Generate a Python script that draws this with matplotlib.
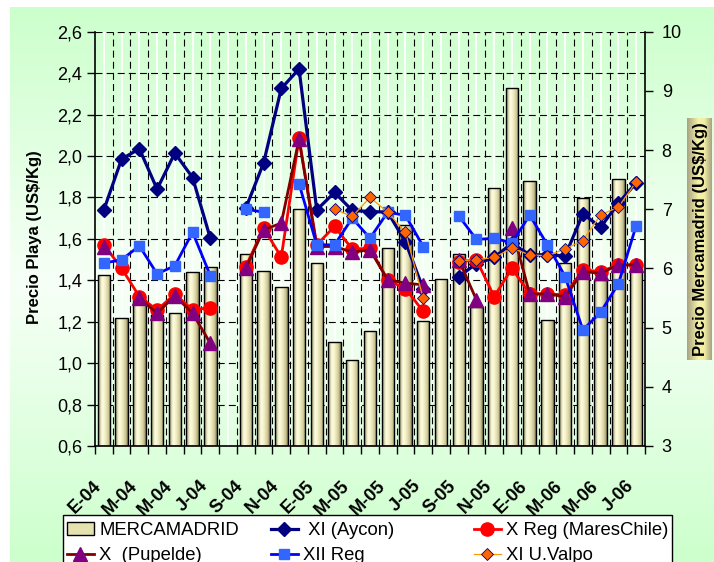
import numpy as np
import matplotlib
matplotlib.use('Agg')
import matplotlib.pyplot as plt
from matplotlib.colors import LinearSegmentedColormap
from matplotlib.transforms import blended_transform_factory, ScaledTranslation
from matplotlib.lines import Line2D
from matplotlib.patches import Rectangle

nan = np.nan

# ---------------- data ----------------
months = list(range(31))  # Jan-2004 ... Jul-2006
tick_labels = ['E-04', 'M-04', 'M-04', 'J-04', 'S-04', 'N-04', 'E-05', 'M-05',
               'M-05', 'J-05', 'S-05', 'N-05', 'E-06', 'M-06', 'M-06', 'J-06']
mercamadrid = [5.89, 5.16, 5.47, 5.22, 5.24, 5.94, 6.02, nan, 6.25, 5.96, 5.68,
               7.00, 6.09, 4.75, 4.45, 4.95, 6.34, 6.74, 5.12, 5.82, 6.25, 5.35,
               7.36, 9.05, 7.47, 5.13, 6.09, 7.19, 5.81, 7.51, 6.00]
xi_aycon = [1.74, 1.985, 2.035, 1.84, 2.014, 1.896, 1.603, nan, 1.748, 1.966, 2.326,
            2.42, 1.74, 1.824, 1.737, 1.732, 1.729, 1.585, 1.358, nan, 1.418, 1.48,
            1.51, 1.579, 1.523, 1.523, 1.518, 1.721, 1.656, 1.772, 1.87]
x_reg_mareschile = [1.571, 1.458, 1.321, 1.257, 1.333, 1.257, 1.268, nan, 1.466, 1.652,
                    1.512, 2.086, 1.571, 1.66, 1.55, 1.555, 1.40, 1.36, 1.25, nan,
                    1.49, 1.499, 1.321, 1.458, 1.334, 1.334, 1.33, 1.45, 1.442, 1.474, 1.474]
x_pupelde = [1.563, nan, 1.313, 1.241, 1.325, 1.241, 1.096, nan, 1.458, 1.643, 1.676,
             2.081, 1.563, 1.563, 1.536, 1.547, 1.402, 1.386, 1.378, nan, 1.50, 1.305,
             nan, 1.652, 1.334, 1.334, 1.321, 1.442, 1.434, 1.474, 1.474]
xii_reg = [1.483, 1.499, 1.566, 1.431, 1.47, 1.632, 1.423, nan, 1.743, 1.729, nan,
           1.866, 1.571, 1.571, 1.70, 1.603, 1.729, 1.713, 1.563, nan, 1.711, 1.597,
           1.603, 1.58, 1.715, 1.571, 1.418, 1.16, 1.246, 1.383, 1.663]
xi_uvalpo = [nan] * 13 + [1.743, 1.708, 1.80, 1.729, 1.631, 1.313, nan, 1.494, 1.499,
                          1.51, 1.555, 1.523, 1.518, 1.552, 1.592, 1.716, 1.753, 1.874]

left_ticks = [0.6, 0.8, 1.0, 1.2, 1.4, 1.6, 1.8, 2.0, 2.2, 2.4, 2.6]
right_ticks = [3, 4, 5, 6, 7, 8, 9, 10]

# ---------------- figure ----------------
plt.rcParams['font.family'] = ['Liberation Sans', 'DejaVu Sans']
plt.rcParams['lines.scale_dashes'] = False

W, H = 714, 562
fig = plt.figure(figsize=(W / 100, H / 100), dpi=100, facecolor='white')


def fx(px):
    return px / W


def fy(py):
    return 1 - py / H


# chart-area gradient background
bg = fig.add_axes([fx(10), 0, 1 - fx(10), fy(7)], zorder=-10)
bg_cmap = LinearSegmentedColormap.from_list(
    'bg', [(0, '#CCFFCC'), (0.5, '#F7FFF7'), (1, '#CCFFCC')])
bg.imshow(np.linspace(0, 1, 256).reshape(-1, 1), aspect='auto', cmap=bg_cmap,
          extent=[0, 1, 0, 1])
bg.set_axis_off()

rect = [fx(95), fy(446), fx(645) - fx(95), (446 - 31.7) / H]
ax = fig.add_axes(rect)
axb = ax.twinx()
axb.set_zorder(ax.get_zorder() - 1)
ax.patch.set_visible(False)
axb.patch.set_visible(False)

x = np.array(months, dtype=float)

# white stripes at category centres
for xi in x:
    axb.axvline(xi, color='white', lw=1.3, zorder=0.3)

# dashed grid
dash = (0, (5, 3))
for xb in np.arange(0.5, 30.5, 1):
    axb.axvline(xb, color='black', lw=0.8, ls=dash, zorder=0.5)
tr = blended_transform_factory(axb.transAxes, ax.transData)
for v in left_ticks[1:]:
    axb.plot([0, 1], [v, v], transform=tr, color='black', lw=0.8, ls=dash, zorder=0.5)

# bars with cylinder-like gradient
bar_cmap = LinearSegmentedColormap.from_list(
    'bar', [(0, '#8E8A5E'), (0.3, '#FFFFE2'), (0.55, '#F3F0C6'),
            (0.85, '#C9C392'), (1, '#7A7650')])
merc = np.array(mercamadrid, dtype=float)
bars = axb.bar(x, merc - 3, bottom=3, width=0.7, facecolor='none',
               edgecolor='black', lw=1.0, zorder=3)
grad = np.linspace(0, 1, 64).reshape(1, -1)
for r in bars:
    h = r.get_height()
    if not np.isfinite(h):
        continue
    x0, w, y0 = r.get_x(), r.get_width(), r.get_y()
    im = axb.imshow(grad, extent=[x0, x0 + w, y0, y0 + h], aspect='auto',
                    cmap=bar_cmap, zorder=2.5, interpolation='bicubic')
    im.set_clip_path(r)

# lines
st_aycon = dict(color='#000080', lw=2.3, marker='D', ms=7.5, mfc='#000080', mec='#000080')
st_xreg = dict(color='#FF0000', lw=2.0, marker='o', ms=9.5, mfc='#FF0000', mec='#FF0000')
st_pup = dict(color='#800000', lw=2.0, marker='^', ms=10, mfc='#800080', mec='#800080')
st_xii = dict(color='#0000FF', lw=2.0, marker='s', ms=6.5, mfc='#3366FF', mec='#3366FF')
st_uv = dict(color='#FF9900', lw=0.9, marker='D', ms=6.3, mfc='#FF6600', mec='#000080', mew=0.6)

ax.plot(x, xi_aycon, zorder=4, **st_aycon)
ax.plot(x, x_reg_mareschile, zorder=5, **st_xreg)
ax.plot(x, x_pupelde, zorder=6, **st_pup)
ax.plot(x, xii_reg, zorder=7, **st_xii)
ax.plot(x, xi_uvalpo, zorder=8, **st_uv)

# axes limits/ticks
ax.set_xlim(-0.5, 30.5)
ax.set_ylim(0.6, 2.6)
axb.set_ylim(3, 10)
ax.set_yticks(left_ticks)
ax.set_yticklabels([f'{v:.1f}'.replace('.', ',') for v in left_ticks])
axb.set_yticks(right_ticks)
axb.set_yticklabels([str(v) for v in right_ticks])
ax.tick_params(axis='y', direction='out', length=6, width=1, labelsize=13, pad=3)
axb.tick_params(axis='y', direction='out', length=6, width=1, labelsize=13, pad=6)

ax.set_xticks(np.arange(-0.5, 31, 1))
ax.set_xticklabels([])
ax.set_xticks(range(0, 31, 2), minor=True)
ax.set_xticklabels(tick_labels, minor=True, rotation=45, ha='right', va='center',
                   rotation_mode='anchor', fontweight='bold', fontsize=13)
ax.tick_params(axis='x', which='major', direction='out', length=6, width=1)
ax.tick_params(axis='x', which='minor', length=0, pad=27)
shift = ScaledTranslation(-5 / 100, 0, fig.dpi_scale_trans)
for lbl in ax.get_xticklabels(minor=True):
    lbl.set_transform(lbl.get_transform() + shift)

for a in (ax, axb):
    a.spines['top'].set_visible(False)
    for s in a.spines.values():
        s.set_linewidth(1.2)
ax.spines['right'].set_visible(False)
axb.spines['left'].set_visible(False)
axb.spines['bottom'].set_visible(False)

# y labels
fig.text(fx(35), fy(237), 'Precio Playa (US$/Kg)', rotation=90, ha='center',
         va='center', fontsize=12, fontweight='bold')

lab = fig.add_axes([fx(687), fy(360), fx(25), (360 - 118) / H], zorder=5)
lab_cmap = LinearSegmentedColormap.from_list(
    'lab', [(0, '#A8A282'), (0.45, '#F6F2A8'), (0.7, '#F2EEA4'), (1, '#A8A282')])
lab.imshow(np.linspace(0, 1, 64).reshape(1, -1), aspect='auto', cmap=lab_cmap,
           extent=[0, 1, 0, 1])
lab.set_axis_off()
lab.text(0.52, 0.5, 'Precio Mercamadrid (US$/Kg)', rotation=90, ha='center',
         va='center', fontsize=12, fontweight='bold', transform=lab.transAxes)

# legend (three columns, frame cut off at bottom)
frame = Rectangle((fx(63), fy(620)), fx(672) - fx(63), (620 - 515) / H,
                  transform=fig.transFigure, facecolor='white', edgecolor='black',
                  lw=1.0, zorder=1)
fig.add_artist(frame)

h_merc = Rectangle((0, 0), 1, 1, facecolor='#E6E2B0', edgecolor='black', lw=1.0)
h_aycon = Line2D([], [], **st_aycon)
h_xreg = Line2D([], [], **st_xreg)
h_pup = Line2D([], [], **st_pup)
h_xii = Line2D([], [], **st_xii)
h_uv = Line2D([], [], **st_uv)

cols = [(67, [h_merc, h_pup], ['MERCAMADRID', 'X  (Pupelde)']),
        (271, [h_aycon, h_xii], [' XI (Aycon)', 'XII Reg']),
        (474, [h_xreg, h_uv], ['X Reg (MaresChile)', 'XI U.Valpo'])]
for xc, hs, ls in cols:
    leg = fig.legend(handles=hs, labels=ls, loc='upper left',
                     bbox_to_anchor=(fx(xc), fy(522)), frameon=False, fontsize=13.3,
                     handlelength=1.45, handletextpad=0.3, labelspacing=0.45,
                     borderpad=0, borderaxespad=0)
    leg.set_zorder(2)

fig.savefig('out.png', dpi=100, facecolor=fig.get_facecolor())
